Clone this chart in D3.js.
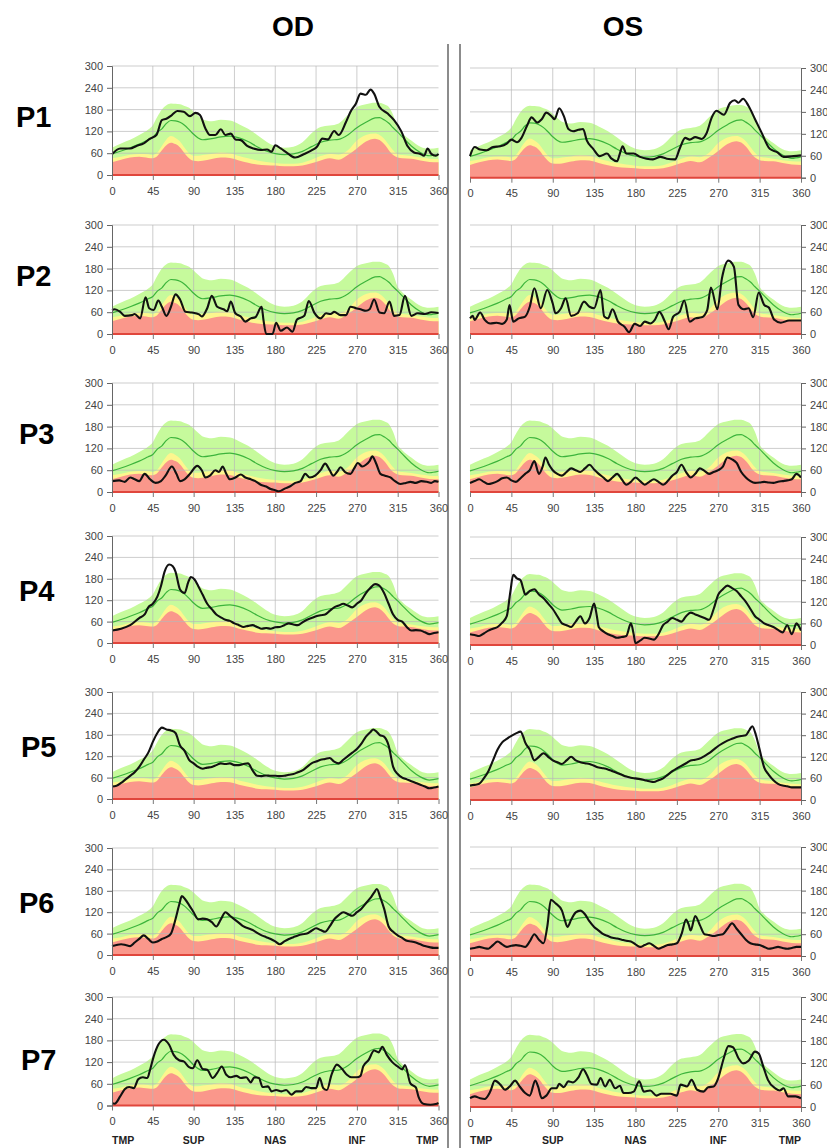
<!DOCTYPE html>
<html>
<head>
<meta charset="utf-8">
<script src="https://cdn.jsdelivr.net/npm/d3@7"></script>
<style>
  body { margin: 0; background: #fff; }
  svg { display: block; font-family: "Liberation Sans", Arial, sans-serif; }
</style>
</head>
<body>
<svg id="chart" width="827" height="1148"></svg>
<script>
// ---- normative band (same for both eyes) ----
const normDeg    = [0,10,20,30,40,45,50,55,60,65,70,75,80,85,90,95,100,110,120,130,140,150,160,170,180,190,200,210,220,230,240,250,260,270,280,290,295,300,305,310,315,320,330,340,350,360];
const normTop    = [75,87,97,110,125,137,160,180,192,197,196,195,190,185,175,163,153,148,152,150,140,127,110,92,79,75,78,90,115,132,136,142,165,187,195,199,199,195,188,165,130,115,95,78,72,75];
const normYellow = [46,50,56,58,57,55,62,80,98,107,102,92,75,60,53,53,55,58,62,60,52,46,40,36,33,31,31,34,42,52,58,56,68,95,110,114,110,100,84,68,58,55,52,48,45,44];
const normRed    = [35,42,48,50,47,46,52,68,82,89,85,76,60,46,39,38,39,44,48,47,40,34,29,27,26,24,24,26,32,40,46,42,55,73,92,100,96,85,69,55,48,46,45,40,36,35];
const normMean   = [58,66,75,85,97,103,118,127,142,150,149,145,137,125,112,102,97,100,105,107,102,92,78,66,59,56,58,65,78,90,96,98,110,130,145,157,158,152,143,130,118,105,80,62,53,57];

// ---- patient profiles [degree, thickness] ----
const P1_OD = [[0,57],[9,73],[20,73],[27,80],[35,87],[42,100],[49,110],[55,151],[60,155],[66,165],[72,176],[79,174],[86,162],[92,171],[97,165],[103,128],[108,110],[114,110],[120,126],[125,110],[131,114],[136,98],[142,96],[149,80],[156,73],[164,69],[171,70],[176,64],[180,82],[186,73],[193,61],[202,48],[212,58],[221,69],[226,78],[232,100],[238,98],[245,121],[250,110],[258,146],[263,174],[269,197],[274,224],[280,221],[285,235],[289,224],[295,187],[304,169],[311,151],[319,120],[326,79],[333,62],[340,58],[344,53],[348,73],[352,58],[357,53],[360,58]];
const P1_OS = [[0,59],[5,84],[11,77],[18,75],[25,84],[33,86],[40,93],[45,104],[51,97],[56,109],[62,142],[67,165],[73,151],[78,160],[83,178],[89,167],[92,160],[97,190],[102,169],[107,133],[112,127],[118,131],[123,133],[127,102],[134,79],[141,59],[149,66],[154,52],[160,45],[163,66],[166,86],[170,66],[178,66],[185,57],[192,52],[199,50],[207,57],[214,52],[223,50],[228,79],[234,109],[239,104],[245,111],[252,106],[257,120],[263,165],[268,183],[276,172],[283,205],[288,212],[292,205],[297,216],[303,196],[310,160],[317,124],[326,79],[334,70],[341,57],[352,59],[360,61]];
const P2_OD = [[0,66],[3,68],[9,61],[14,50],[22,52],[25,55],[31,43],[37,101],[41,71],[46,66],[51,92],[55,75],[60,50],[65,75],[70,109],[75,95],[81,61],[88,59],[96,54],[99,48],[105,71],[110,105],[116,75],[123,68],[127,63],[131,89],[136,57],[142,48],[147,34],[153,43],[158,46],[165,75],[167,39],[170,0],[177,0],[181,31],[186,9],[193,18],[199,6],[204,40],[212,50],[217,91],[223,59],[230,43],[236,57],[241,55],[245,61],[252,52],[258,52],[263,75],[269,71],[274,68],[280,64],[284,68],[289,95],[295,59],[300,57],[306,89],[311,50],[317,52],[323,105],[330,50],[337,57],[345,55],[352,60],[360,58]];
const P2_OS = [[0,43],[3,50],[5,39],[11,59],[16,39],[22,29],[29,31],[35,28],[40,40],[43,80],[47,34],[53,43],[60,48],[65,75],[70,126],[77,71],[84,121],[90,84],[93,57],[99,71],[104,98],[110,50],[117,57],[124,89],[130,75],[135,71],[142,121],[146,48],[150,43],[155,68],[161,34],[168,20],[173,5],[179,28],[185,22],[190,34],[196,29],[201,39],[206,61],[212,34],[216,13],[221,48],[228,61],[233,92],[239,34],[245,43],[252,46],[258,66],[262,128],[269,68],[274,153],[281,202],[287,185],[292,80],[298,68],[303,71],[308,46],[314,114],[320,80],[325,73],[331,39],[338,31],[347,37],[360,37]];
const P3_OD = [[0,30],[8,32],[14,28],[20,40],[25,35],[30,30],[36,50],[42,35],[48,25],[54,30],[59,45],[66,70],[71,50],[75,30],[80,35],[86,50],[94,72],[99,60],[103,40],[108,45],[114,60],[118,55],[122,70],[126,50],[130,35],[136,40],[142,48],[147,40],[153,35],[158,30],[164,20],[170,15],[175,8],[180,5],[184,2],[191,10],[196,15],[202,25],[208,30],[213,50],[218,40],[224,45],[230,60],[235,78],[240,60],[244,45],[248,55],[252,68],[257,55],[263,50],[267,65],[271,80],[276,70],[280,75],[284,85],[287,98],[291,80],[296,50],[301,45],[307,40],[312,30],[318,22],[324,25],[329,28],[335,25],[341,30],[347,28],[352,25],[356,30],[360,28]];
const P3_OS = [[0,25],[5,30],[10,35],[15,28],[20,22],[25,25],[30,30],[35,38],[40,40],[45,32],[50,28],[55,38],[60,50],[65,60],[70,85],[75,50],[79,70],[82,95],[86,75],[90,60],[95,50],[100,45],[105,55],[110,65],[115,60],[120,55],[125,65],[130,75],[135,62],[140,50],[145,40],[150,30],[155,40],[160,50],[165,35],[170,20],[175,28],[180,40],[185,30],[190,20],[195,28],[200,35],[205,28],[210,20],[215,30],[220,45],[225,55],[230,75],[235,55],[240,40],[245,50],[250,65],[255,58],[260,50],[265,55],[270,60],[275,70],[280,95],[285,90],[290,80],[295,55],[300,40],[305,30],[310,25],[315,26],[320,28],[325,26],[330,25],[335,28],[340,30],[345,32],[350,35],[355,50],[360,40]];
const P4_OD = [[0,35],[10,40],[20,50],[30,70],[36,80],[40,100],[45,110],[50,130],[54,160],[58,200],[63,220],[67,215],[70,200],[75,150],[80,140],[84,170],[87,185],[91,178],[95,160],[100,135],[105,110],[110,95],[115,80],[120,72],[125,65],[130,62],[135,55],[140,50],[145,45],[150,48],[155,50],[160,45],[165,40],[170,42],[175,40],[180,44],[185,45],[190,50],[195,55],[200,52],[205,50],[210,58],[215,65],[220,70],[225,75],[230,78],[235,80],[240,90],[245,100],[250,105],[255,110],[260,105],[265,100],[270,110],[275,120],[280,140],[285,155],[290,165],[294,162],[300,140],[305,110],[310,80],[315,65],[320,60],[325,45],[330,35],[335,36],[340,35],[345,30],[350,25],[355,28],[360,30]];
const P4_OS = [[0,30],[5,28],[10,25],[15,32],[20,40],[25,45],[30,50],[35,62],[40,80],[44,150],[47,195],[51,185],[55,180],[58,155],[60,140],[65,150],[70,155],[75,140],[80,130],[85,115],[90,100],[95,80],[100,60],[105,55],[110,50],[115,65],[120,80],[125,60],[130,75],[135,115],[138,80],[140,50],[145,38],[150,30],[155,25],[160,20],[165,22],[170,25],[175,60],[178,30],[180,5],[185,12],[190,20],[195,18],[200,15],[205,30],[210,55],[215,65],[220,75],[225,70],[230,65],[235,80],[240,90],[245,85],[250,80],[255,75],[260,70],[265,100],[270,140],[275,155],[280,165],[285,158],[290,150],[295,135],[300,120],[305,100],[310,80],[315,70],[320,60],[325,55],[330,50],[335,42],[340,35],[345,55],[350,30],[355,60],[360,40]];
const P5_OD = [[0,35],[5,37],[10,45],[15,55],[20,65],[25,75],[30,90],[35,110],[40,130],[45,160],[50,185],[55,200],[60,195],[65,192],[70,185],[75,150],[80,135],[85,110],[90,100],[95,90],[100,85],[105,88],[110,90],[115,95],[120,100],[125,98],[130,100],[135,95],[140,95],[145,98],[150,100],[155,80],[160,65],[165,64],[170,66],[175,65],[180,65],[185,64],[190,65],[195,68],[200,70],[205,75],[210,80],[215,90],[220,100],[225,105],[230,110],[235,112],[240,115],[245,105],[250,100],[255,110],[260,120],[265,130],[270,140],[275,155],[280,175],[285,188],[288,195],[292,188],[295,180],[300,175],[305,150],[310,90],[315,70],[320,60],[325,55],[330,50],[335,45],[340,40],[345,35],[350,30],[355,32],[360,35]];
const P5_OS = [[0,40],[5,42],[10,45],[15,60],[20,80],[25,110],[30,140],[35,160],[40,170],[45,178],[50,185],[55,190],[58,175],[60,160],[65,140],[70,110],[75,120],[80,130],[85,120],[90,110],[95,105],[100,100],[105,110],[110,120],[115,110],[120,105],[125,102],[130,100],[135,95],[140,90],[145,88],[150,85],[155,80],[160,75],[165,70],[170,65],[175,62],[180,60],[185,58],[190,55],[195,52],[200,50],[205,55],[210,60],[215,70],[220,80],[225,88],[230,95],[235,102],[240,110],[245,112],[250,115],[255,122],[260,130],[265,140],[270,150],[275,158],[280,165],[285,170],[290,175],[295,178],[300,180],[304,195],[307,205],[311,180],[315,140],[320,90],[325,70],[330,55],[335,45],[340,40],[345,38],[350,35],[355,35],[360,35]];
const P6_OD = [[0,25],[5,28],[10,30],[15,28],[20,25],[25,35],[30,45],[35,55],[40,45],[45,35],[50,38],[55,45],[60,50],[65,60],[70,100],[74,140],[77,165],[81,155],[85,140],[90,120],[95,100],[100,102],[105,100],[110,92],[115,80],[120,100],[125,120],[130,110],[135,100],[140,90],[145,80],[150,75],[155,70],[160,62],[165,55],[170,50],[175,45],[180,38],[185,30],[190,38],[195,45],[200,50],[205,55],[210,58],[215,60],[220,68],[225,75],[230,70],[235,65],[240,80],[245,100],[250,112],[255,120],[260,115],[265,110],[270,120],[275,130],[280,145],[285,160],[289,175],[292,185],[296,160],[300,130],[305,80],[310,65],[315,55],[320,48],[325,40],[330,38],[335,35],[340,30],[345,25],[350,22],[355,20],[360,20]];
const P6_OS = [[0,20],[5,22],[10,25],[15,22],[20,20],[25,30],[30,40],[35,32],[40,25],[45,28],[50,30],[55,28],[60,25],[65,40],[70,60],[75,45],[80,35],[84,80],[88,155],[93,145],[100,125],[103,100],[106,80],[110,100],[115,120],[120,125],[125,115],[130,95],[135,80],[140,70],[145,60],[150,55],[155,50],[160,48],[165,45],[170,42],[175,40],[180,32],[185,25],[190,30],[195,35],[200,28],[205,20],[210,25],[215,30],[220,32],[225,35],[230,60],[235,100],[238,85],[240,70],[245,110],[250,85],[255,60],[260,58],[265,55],[270,58],[275,60],[280,75],[285,90],[290,75],[295,60],[300,45],[305,35],[310,32],[315,30],[320,25],[325,20],[330,22],[335,25],[340,22],[345,20],[350,22],[355,25],[360,25]];
const P7_OD = [[0,6],[3,5],[9,25],[14,45],[19,51],[24,48],[29,73],[34,78],[39,76],[42,99],[46,136],[51,168],[57,182],[63,168],[68,140],[74,125],[79,122],[85,106],[89,103],[94,125],[100,101],[105,99],[111,76],[116,90],[121,108],[126,85],[131,78],[137,82],[142,76],[148,78],[153,64],[157,78],[162,76],[166,51],[172,53],[176,39],[181,43],[187,39],[192,43],[198,30],[203,39],[209,39],[214,51],[220,48],[225,48],[229,76],[233,48],[237,43],[242,85],[248,113],[253,103],[259,85],[264,78],[270,78],[274,82],[277,108],[283,126],[289,152],[294,147],[298,162],[303,140],[309,120],[315,108],[320,100],[323,112],[329,61],[335,50],[338,24],[344,4],[351,2],[357,4],[360,7]];
const P7_OS = [[0,24],[5,29],[11,24],[16,22],[22,42],[27,72],[33,61],[38,47],[44,58],[49,72],[54,56],[60,38],[65,31],[71,72],[74,56],[78,24],[83,31],[89,51],[94,51],[97,63],[102,54],[107,70],[112,67],[118,81],[123,103],[127,88],[132,63],[138,61],[142,79],[147,56],[152,74],[158,51],[163,58],[167,38],[172,38],[178,42],[184,70],[189,42],[196,45],[203,31],[208,36],[218,36],[225,31],[229,61],[236,56],[241,74],[247,47],[254,42],[259,54],[265,56],[270,79],[276,133],[281,166],[286,163],[292,133],[297,119],[303,126],[310,151],[314,146],[319,110],[324,74],[332,51],[337,45],[341,51],[346,29],[354,29],[360,24]];

const rowNames   = ["P1","P2","P3","P4","P5","P6","P7"];
const odProfiles = [P1_OD,P2_OD,P3_OD,P4_OD,P5_OD,P6_OD,P7_OD];
const osProfiles = [P1_OS,P2_OS,P3_OS,P4_OS,P5_OS,P6_OS,P7_OS];
const xTicks     = [0,45,90,135,180,225,270,315,360];
const yTicks     = [0,60,120,180,240,300];
const sectors    = [[0,"TMP"],[90,"SUP"],[180,"NAS"],[270,"INF"],[360,"TMP"]];

// ---- layout ----
const leftTop  = [66, 225, 383, 536, 692, 848, 997];
const leftBot  = [175, 334, 492, 643, 799, 955, 1105.5];
const rightTop = [68, 225, 383, 537, 692, 847, 997];
const rightBot = [177.7, 334, 492, 645, 800, 956, 1107];
const labelX   = [16, 16, 19, 19, 21, 19, 21];
const labelY   = [127, 286, 444, 601, 757, 913, 1070];

const svg = d3.select("#chart");

const norm = normDeg.map((d, i) => ({
  deg: d, top: normTop[i], yel: normYellow[i], red: normRed[i], mean: normMean[i]
}));

// titles
svg.append("text").attr("x", 293).attr("y", 36).attr("text-anchor", "middle")
  .attr("font-size", "28px").attr("font-weight", "bold").text("OD");
svg.append("text").attr("x", 623).attr("y", 36).attr("text-anchor", "middle")
  .attr("font-size", "28px").attr("font-weight", "bold").text("OS");

// divider lines
[448, 460].forEach(xx => {
  svg.append("line").attr("x1", xx).attr("x2", xx).attr("y1", 44).attr("y2", 1148)
    .attr("stroke", "#666").attr("stroke-width", 1.5);
});

function drawPanel(x0, x1, yTop, yBot, profile, side, last) {
  const x = d3.scaleLinear().domain([0, 360]).range([x0, x1]);
  const y = d3.scaleLinear().domain([0, 300]).range([yBot, yTop]);
  const g = svg.append("g");

  const area = key => d3.area()
    .x(d => x(d.deg)).y0(y(0)).y1(d => y(d[key]))
    .curve(d3.curveMonotoneX);

  g.append("path").datum(norm).attr("d", area("top")).attr("fill", "#c6fa9c");
  g.append("path").datum(norm).attr("d", area("yel")).attr("fill", "#fdf68e");
  g.append("path").datum(norm).attr("d", area("red")).attr("fill", "#fa978b");

  // grid (drawn over the bands, as in the original)
  g.selectAll(".hg").data(yTicks.filter(v => v > 0)).enter().append("line")
    .attr("x1", x0).attr("x2", x1).attr("y1", d => y(d)).attr("y2", d => y(d))
    .attr("stroke", "#b8b8b8").attr("stroke-opacity", 0.7);
  g.selectAll(".vg").data(xTicks.filter(v => v > 0 && v < 360)).enter().append("line")
    .attr("x1", d => x(d)).attr("x2", d => x(d)).attr("y1", yTop).attr("y2", yBot)
    .attr("stroke", "#b8b8b8").attr("stroke-opacity", 0.7);

  // baseline
  g.append("line").attr("x1", x0).attr("x2", x1).attr("y1", y(0)).attr("y2", y(0))
    .attr("stroke", "#e0463c").attr("stroke-width", 2);

  // mean line
  g.append("path").datum(norm)
    .attr("d", d3.line().x(d => x(d.deg)).y(d => y(d.mean)).curve(d3.curveMonotoneX))
    .attr("fill", "none").attr("stroke", "#3cb43c").attr("stroke-width", 1.2);

  // patient profile
  g.append("path").datum(profile)
    .attr("d", d3.line().x(d => x(d[0])).y(d => y(d[1])).curve(d3.curveMonotoneX))
    .attr("fill", "none").attr("stroke", "#111").attr("stroke-width", 2.1)
    .attr("stroke-linejoin", "round");

  // x axis
  const xAxis = d3.axisBottom(x).tickValues(xTicks).tickSize(5).tickPadding(7);
  const xg = g.append("g").attr("transform", "translate(0," + y(0) + ")").call(xAxis);
  xg.select(".domain").remove();
  xg.selectAll("line").attr("stroke", "#777");
  xg.selectAll("text").attr("font-size", "11px").attr("fill", "#444")
    .attr("font-family", "Liberation Sans, Arial, sans-serif");

  // y axis
  const yAxis = (side === "left" ? d3.axisLeft(y) : d3.axisRight(y))
    .tickValues(yTicks).tickSize(5).tickPadding(4);
  const yg = g.append("g")
    .attr("transform", "translate(" + (side === "left" ? x0 : x1) + ",0)").call(yAxis);
  yg.select(".domain").attr("stroke", "#666");
  yg.selectAll("line").attr("stroke", "#666");
  yg.selectAll("text").attr("font-size", "11px").attr("fill", "#444")
    .attr("font-family", "Liberation Sans, Arial, sans-serif");

  if (last) {
    g.selectAll(".sec").data(sectors).enter().append("text")
      .attr("x", d => x(d[0]))
      .attr("y", 1144)
      .attr("text-anchor", d => d[0] === 0 ? "start" : d[0] === 360 ? "end" : "middle")
      .attr("font-size", "10.5px").attr("font-weight", "bold").attr("fill", "#222")
      .text(d => d[1]);
  }
}

rowNames.forEach((name, i) => {
  svg.append("text").attr("x", labelX[i]).attr("y", labelY[i])
    .attr("font-size", "29px").attr("font-weight", "bold").text(name);
  drawPanel(112, 438.5, leftTop[i], leftBot[i], odProfiles[i], "left", i === 6);
  drawPanel(470, 801, rightTop[i], rightBot[i], osProfiles[i], "right", i === 6);
});
</script>
</body>
</html>
